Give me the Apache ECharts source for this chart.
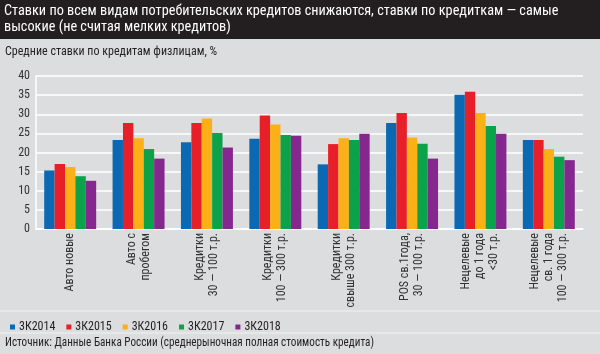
<!DOCTYPE html>
<html>
<head>
<meta charset="utf-8">
<script src="https://cdn.jsdelivr.net/npm/echarts@6/dist/echarts.min.js"></script>
<style>
  html, body { margin: 0; padding: 0; background: #dcdddf; }
  #chart { width: 600px; height: 354px; }
</style>
</head>
<body>
<div id="chart"></div>
<script>
// categories and values
var categories = [
    'Авто новые',
    'Авто с\nпробегом',
    'Кредитки\n30 — 100 т.р.',
    'Кредитки\n100 — 300 т.р.',
    'Кредитки\nсвыше 300 т.р.',
    'POS св.1года,\n30 — 100 т.р.',
    'Нецелевые\nдо 1 года\n<30 т.р.',
    'Нецелевые\nсв. 1 года\n100 — 300 т.р.'
];
var seriesNames = ['3К2014', '3К2015', '3К2016', '3К2017', '3К2018'];
var q3_2014 = [15.3, 23.3, 22.7, 23.6, 16.9, 27.7, 35.1, 23.3];
var q3_2015 = [17.0, 27.7, 27.7, 29.7, 22.2, 30.3, 35.9, 23.3];
var q3_2016 = [16.2, 23.7, 28.9, 27.3, 23.7, 23.9, 30.3, 20.9];
var q3_2017 = [13.8, 20.9, 25.1, 24.6, 23.3, 22.3, 26.9, 18.9];
var q3_2018 = [12.6, 18.4, 21.3, 24.4, 24.9, 18.4, 24.9, 18.0];
var yTicks = [0, 5, 10, 15, 20, 25, 30, 35, 40];

var font = '"Roboto Condensed", "Liberation Sans", sans-serif';
var colors = ['#0b69b4', '#e61f29', '#fbb017', '#0ba24a', '#84278e'];

var chart = echarts.init(document.getElementById('chart'));

var allData = [q3_2014, q3_2015, q3_2016, q3_2017, q3_2018];
var series = allData.map(function (d, i) {
    return {
        name: seriesNames[i],
        type: 'bar',
        data: d,
        barGap: '0%',
        barCategoryGap: '24%',
        itemStyle: { color: colors[i] }
    };
});

var option = {
    backgroundColor: '#dcdddf',
    color: colors,
    textStyle: { fontFamily: font },
    animation: false,
    grid: { left: 36, right: 17, top: 76, bottom: 125 },
    graphic: [
        { type: 'rect', shape: { x: 0, y: 0, width: 600, height: 39 }, style: { fill: '#231f20' } },
        { type: 'text', x: 4, y: 3, scaleX: 0.95, style: {
            text: 'Ставки по всем видам потребительских кредитов снижаются, ставки по кредиткам — самые\nвысокие (не считая мелких кредитов)',
            fill: '#ffffff', font: '15px ' + font, lineHeight: 16 } },
        { type: 'text', x: 5, y: 46, style: {
            text: 'Средние ставки по кредитам физлицам, %', fill: '#231f20', font: '12px ' + font } },
        { type: 'line', shape: { x1: 0, y1: 311, x2: 600, y2: 311 }, style: { stroke: '#f2f2f2', lineWidth: 1 } },
        { type: 'line', shape: { x1: 0, y1: 333, x2: 600, y2: 333 }, style: { stroke: '#f2f2f2', lineWidth: 1 } },
        { type: 'text', x: 5, y: 337, scaleX: 0.93, style: {
            text: 'Источник: Данные Банка России (среднерыночная полная стоимость кредита)',
            fill: '#231f20', font: '12px ' + font } }
    ],
    legend: {
        data: seriesNames,
        left: 5,
        top: 316,
        itemWidth: 5,
        itemHeight: 5,
        itemGap: 11,
        icon: 'rect',
        textStyle: { fontSize: 12, color: '#231f20', fontFamily: font, padding: [0, 0, 0, -1] }
    },
    xAxis: {
        type: 'category',
        data: categories,
        axisLine: { lineStyle: { color: '#ffffff', width: 1.5 } },
        axisTick: { show: false },
        axisLabel: {
            rotate: 90,
            interval: 0,
            margin: 4,
            fontSize: 12,
            lineHeight: 14,
            color: '#333333',
            fontFamily: font
        }
    },
    yAxis: {
        type: 'value',
        min: 0,
        max: 40,
        interval: 5,
        axisLine: { show: true, lineStyle: { color: '#ffffff', width: 1.5 } },
        axisTick: { show: false },
        splitLine: { lineStyle: { color: '#ffffff', width: 1.5 } },
        axisLabel: {
            margin: 6,
            fontSize: 12,
            color: '#333333',
            fontFamily: font,
            formatter: function (v) { return yTicks.indexOf(v) >= 0 ? String(v) : ''; }
        }
    },
    series: series
};

chart.setOption(option);
</script>
</body>
</html>
